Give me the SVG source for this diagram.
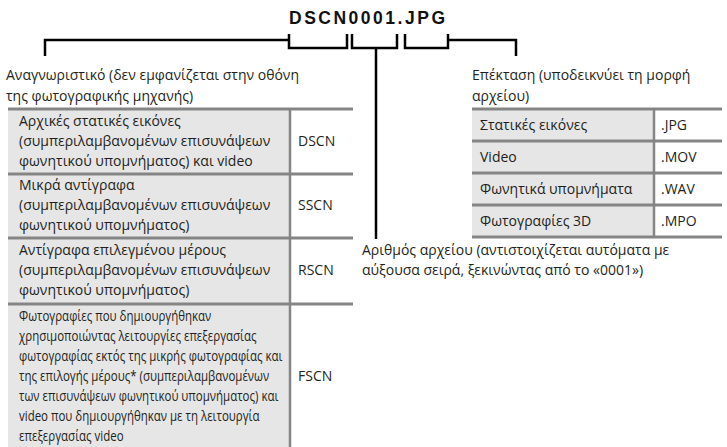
<svg xmlns="http://www.w3.org/2000/svg" width="727" height="447" viewBox="0 0 727 447">
<style>
text{font-family:"Open Sans","Liberation Sans",sans-serif;font-size:14px;fill:#231f20}
.t{font-family:"Liberation Sans",sans-serif;font-size:17.5px;font-weight:bold;fill:#111}
.br{fill:none;stroke:#000;stroke-width:2.5}
.hl{stroke:#858585;stroke-width:3}
.vl{stroke:#858585;stroke-width:2.5}
.g{fill:#e6e6e6}
</style>
<rect width="727" height="447" fill="#fff"/>
<g id="title"><text class="t" x="289" y="24" textLength="156" lengthAdjust="spacing">DSCN0001.JPG</text></g>
<g id="connectors">
<path class="br" d="M45,56 V40 H289 M289,34 V48 H347 V34"/>
<path class="br" d="M352,34 V48 H397 V34 M376,48 V239"/>
<path class="br" d="M405,34 V48 H448 V34 M448,40 H516 V56"/>
</g>
<g id="label-id">
<text x="6" y="80">Αναγνωριστικό (δεν εμφανίζεται στην οθόνη</text>
<text x="6" y="101">της φωτογραφικής μηχανής)</text>
</g>
<g id="label-ext">
<text x="472" y="80">Επέκταση (υποδεικνύει τη μορφή</text>
<text x="472" y="101">αρχείου)</text>
</g>
<g id="label-num">
<text x="362" y="255">Αριθμός αρχείου (αντιστοιχίζεται αυτόματα με</text>
<text x="362" y="275">αύξουσα σειρά, ξεκινώντας από το «0001»)</text>
</g>
<g id="table-left">
<rect class="g" x="8" y="109" width="282" height="338"/>
<line class="hl" x1="8" y1="109" x2="353" y2="109"/>
<line class="hl" x1="8" y1="174" x2="353" y2="174"/>
<line class="hl" x1="8" y1="238" x2="353" y2="238"/>
<line class="hl" x1="8" y1="304" x2="353" y2="304"/>
<line class="vl" x1="290" y1="109" x2="290" y2="447"/>
<text x="19" y="126">Αρχικές στατικές εικόνες</text>
<text x="19" y="146">(συμπεριλαμβανομένων επισυνάψεων</text>
<text x="19" y="166">φωνητικού υπομνήματος) και video</text>
<text x="298" y="146">DSCN</text>
<text x="19" y="190">Μικρά αντίγραφα</text>
<text x="19" y="210">(συμπεριλαμβανομένων επισυνάψεων</text>
<text x="19" y="230">φωνητικού υπομνήματος)</text>
<text x="298" y="210">SSCN</text>
<text x="19" y="255">Αντίγραφα επιλεγμένου μέρους</text>
<text x="19" y="275">(συμπεριλαμβανομένων επισυνάψεων</text>
<text x="19" y="295">φωνητικού υπομνήματος)</text>
<text x="298" y="275">RSCN</text>
<g transform="translate(19,0) scale(0.82,1)">
<text x="0" y="321">Φωτογραφίες που δημιουργήθηκαν</text>
<text x="0" y="341">χρησιμοποιώντας λειτουργίες επεξεργασίας</text>
<text x="0" y="361">φωτογραφίας εκτός της μικρής φωτογραφίας και</text>
<text x="0" y="381">της επιλογής μέρους* (συμπεριλαμβανομένων</text>
<text x="0" y="401">των επισυνάψεων φωνητικού υπομνήματος) και</text>
<text x="0" y="421">video που δημιουργήθηκαν με τη λειτουργία</text>
<text x="0" y="441">επεξεργασίας video</text>
</g>
<text x="298" y="381">FSCN</text>
</g>
<g id="table-right">
<rect class="g" x="472" y="109" width="182" height="128"/>
<line class="hl" x1="472" y1="109" x2="722" y2="109"/>
<line class="hl" x1="472" y1="141" x2="722" y2="141"/>
<line class="hl" x1="472" y1="173" x2="722" y2="173"/>
<line class="hl" x1="472" y1="205" x2="722" y2="205"/>
<line class="hl" x1="472" y1="237" x2="722" y2="237"/>
<line class="vl" x1="654" y1="109" x2="654" y2="237"/>
<text x="480" y="130">Στατικές εικόνες</text>
<text x="661" y="130">.JPG</text>
<text x="480" y="162">Video</text>
<text x="661" y="162">.MOV</text>
<text x="480" y="194">Φωνητικά υπομνήματα</text>
<text x="661" y="194">.WAV</text>
<text x="480" y="226">Φωτογραφίες 3D</text>
<text x="661" y="226">.MPO</text>
</g>
</svg>
